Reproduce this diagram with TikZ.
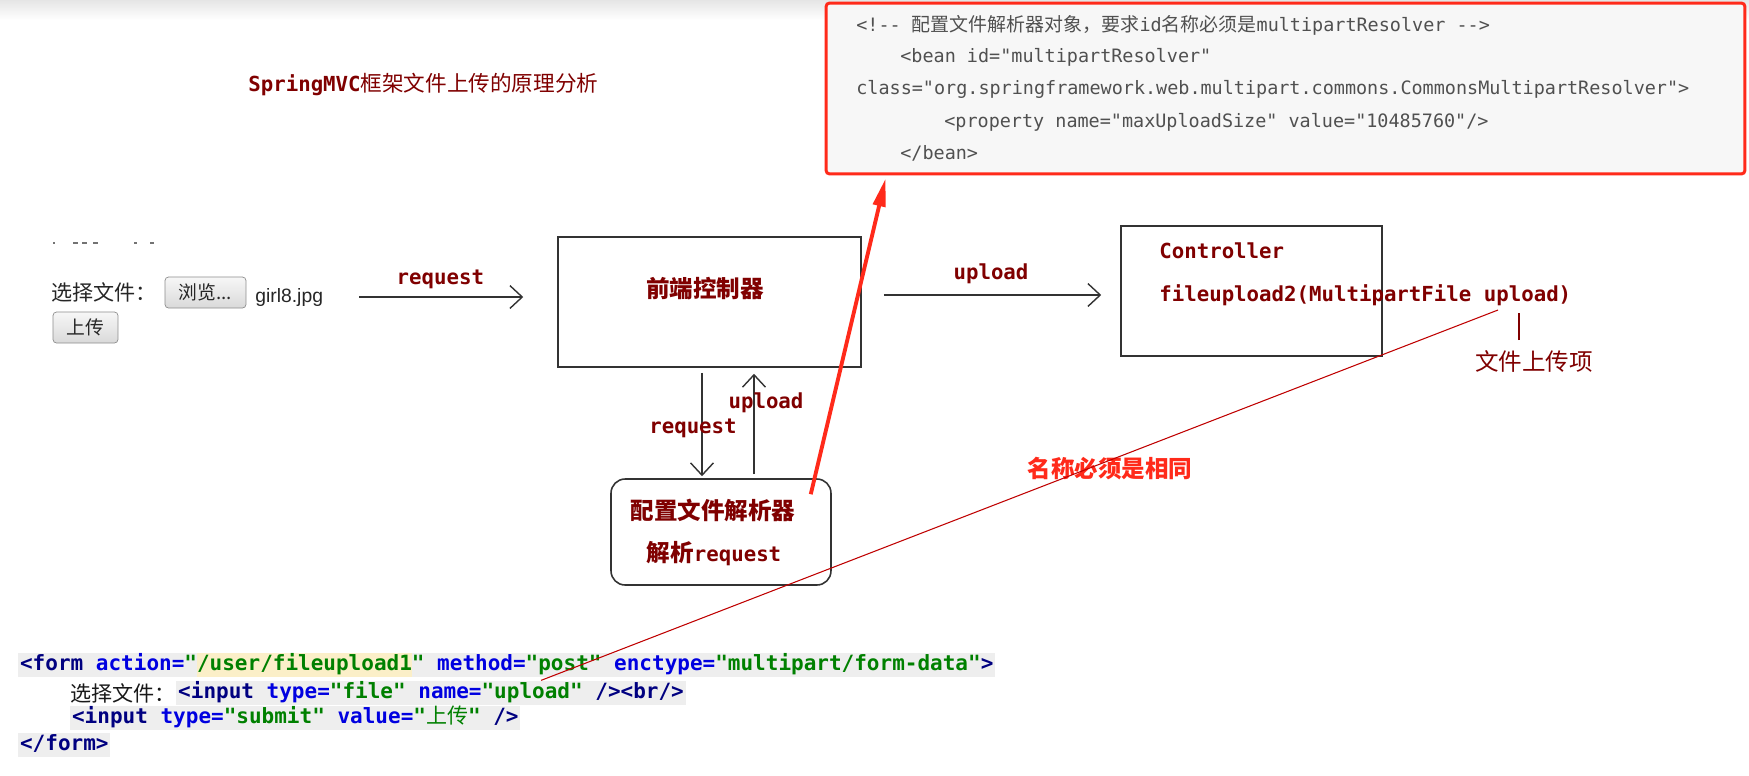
\documentclass[tikz,border=0pt]{standalone}
\usepackage{fontspec}
\setmainfont{Liberation Sans}
\newfontfamily\cjk{Noto Sans CJK SC}
\newfontfamily\codefont{DejaVu Sans Mono}[Ligatures=TeXOff]
\usetikzlibrary{arrows.meta, positioning, calc}
\usepackage{xcolor}
\definecolor{mvcred}{HTML}{800000}
\definecolor{hotred}{HTML}{FF2A1A}
\definecolor{codebg}{HTML}{F7F7F7}
\definecolor{codegray}{HTML}{505050}
\definecolor{hlgray}{HTML}{EEEEEE}
\definecolor{hlyellow}{HTML}{FBEFC8}
\definecolor{tagnavy}{HTML}{000080}
\definecolor{attrblue}{HTML}{0000E0}
\definecolor{valgreen}{HTML}{008000}

\newcommand{\xtag}[1]{\textcolor{tagnavy}{#1}}
\newcommand{\xattr}[1]{\textcolor{attrblue}{#1}}
\newcommand{\xval}[1]{\textcolor{valgreen}{#1}}
\newcommand{\hlmark}[1]{{\setlength{\fboxsep}{0pt}\colorbox{hlyellow}{\rule[-4pt]{0pt}{14pt}#1}}}
\newcommand{\xmlhan}[1]{{\cjk\fontsize{10.8}{12}\selectfont #1}}
\newcommand{\mvclat}[1]{{\codefont\bfseries\fontsize{11.8}{14}\selectfont #1}}

\begin{document}
\begin{tikzpicture}[
  x=0.02cm, y=-0.02cm,
  boxnode/.style={draw=black!80, line width=0.9pt, inner sep=0pt},
  lbl/.style={font=\codefont\bfseries\fontsize{11.8}{14}\selectfont, text=mvcred, inner sep=0pt},
  hanlbl/.style={font=\cjk\bfseries\fontsize{13.4}{16}\selectfont, text=mvcred, inner sep=0pt},
  xmlln/.style={font=\codefont\fontsize{10.5}{12}\selectfont, text=codegray, inner sep=0pt, anchor=west},
  codeln/.style={font=\codefont\bfseries\fontsize{11.95}{14}\selectfont, fill=hlgray,
    inner xsep=1pt, inner ysep=0pt, text height=10pt, text depth=4pt, anchor=west},
  btn/.style={draw=black!45, rounded corners=2pt, top color=black!3, bottom color=black!15,
    font=\cjk\fontsize{10.7}{12}\selectfont, text=black!85, inner sep=0pt},
  arr/.style={-{Straight Barb[length=7pt, width=13pt]}, line width=0.8pt, black!80},
  bigarr/.style={-{Triangle[length=16pt, width=7pt]}, line width=2.2pt, hotred},
  thinred/.style={line width=0.6pt, red!75!black}
]
  \fill[white] (0,0) rectangle (1749,775);
  \useasboundingbox (0,0) rectangle (1749,775);
  \shade[top color=black!10, bottom color=white] (0,0) rectangle (1749,20);

  % Title
  \node[font=\cjk\fontsize{12.3}{15}\selectfont, text=mvcred, anchor=west, inner sep=0pt]
    (title) at (248,84) {\mvclat{SpringMVC}框架文件上传的原理分析};

  % Config snippet
  \node[draw=hotred, line width=1.7pt, fill=codebg, rounded corners=2pt,
    minimum width=18.38cm, minimum height=3.42cm, inner sep=0pt] (codebox) at (1285.5,88.5) {};
  \node[xmlln] (x1) at (856,25) {<!-- \xmlhan{配置文件解析器对象，要求}id\xmlhan{名称必须是}multipartResolver -->};
  \node[xmlln] (x2) at (900,57) {<bean id="multipartResolver"};
  \node[xmlln] (x3) at (856,89) {class="org.springframework.web.multipart.commons.CommonsMultipartResolver">};
  \node[xmlln] (x4) at (944,122) {<property name="maxUploadSize" value="10485760"/>};
  \node[xmlln] (x5) at (900,153) {</bean>};

  % Upload form widget
  \draw[black!55, line width=1pt] (53,243) -- (55,243) (73,243) -- (78,243) (82,243) -- (87,243)
    (93,243) -- (98,243) (134,243) -- (137,243) (150,243) -- (154,243);
  \node[font=\cjk\fontsize{12}{14}\selectfont, text=black!85, anchor=west, inner sep=0pt]
    (pick) at (51,292) {选择文件：};
  \node[btn, minimum width=1.62cm, minimum height=0.62cm] (browse) at (205.5,292.5) {浏览...};
  \node[font=\fontsize{11}{13}\selectfont, text=black!85, anchor=west, inner sep=0pt]
    (girl) at (255,297) {girl8.jpg};
  \node[btn, minimum width=1.3cm, minimum height=0.62cm] (send) at (85.5,327.5) {上传};

  % Boxes
  \node[boxnode, minimum width=6.06cm, minimum height=2.6cm] (front) at (709.5,302) {};
  \node[hanlbl] (frontlbl) at (705,289) {前端控制器};
  \node[boxnode, minimum width=5.22cm, minimum height=2.6cm] (ctrl) at (1251.5,291) {};
  \node[lbl, anchor=west] (ctrlname) at (1159,251) {Controller};
  \node[lbl, anchor=west] (ctrlsig) at (1159,295) {fileupload2(MultipartFile upload)};
  \node[boxnode, rounded corners=8pt, minimum width=4.4cm, minimum height=2.12cm] (parser) at (721,532) {};
  \node[hanlbl] (parserlbl) at (713,510) {配置文件解析器};
  \node[hanlbl] (parserjob) at (714,554) {解析\mvclat{request}};

  % Flow
  \draw[arr, shorten <=0.72cm, shorten >=0.68cm] (girl.east) -- (girl.east -| front.west)
    node[lbl, midway, above=4pt] (reqlbl) {request};
  \coordinate (upS) at ($(front.east)+(0,-7)$);
  \draw[arr, shorten <=0.44cm, shorten >=0.38cm] (upS) -- (upS -| ctrl.west)
    node[lbl, midway, above=6pt] (uplbl) {upload};
  \coordinate (dnS) at ($(front.south)+(-7.5,0)$);
  \draw[arr, shorten <=0.1cm, shorten >=0.04cm] (dnS) -- (dnS |- parser.north);
  \node[lbl] (dnlbl) at (693,428) {request};
  \coordinate (rtS) at ($(parser.north)+(33,0)$);
  \draw[arr, shorten <=0.08cm, shorten >=0.12cm] (rtS) -- (rtS |- front.south);
  \node[lbl] (rtlbl) at (766,403) {upload};

  % Notes
  \node[font=\cjk\fontsize{13.4}{16}\selectfont, text=mvcred, inner sep=0pt] (item) at (1534,361) {文件上传项};
  \draw[mvcred, line width=0.7pt] ($(item.center)+(-15,-21)$) -- ++(0,-27);
  \node[font=\cjk\bfseries\fontsize{13.4}{16}\selectfont, text=hotred, inner sep=0pt] (same) at (1110,469) {名称必须是相同};

  % Form source
  \node[codeln] (l1) at (18,665) {\xtag{<form} \xattr{action=}\xval{"\hlmark{/user/fileupload1}"} \xattr{method=}\xval{"post"} \xattr{enctype=}\xval{"multipart/form-data"}\xtag{>}};
  \node[font=\cjk\fontsize{12}{14}\selectfont, text=black!90, anchor=west, inner sep=0pt] (l2han) at (70,693) {选择文件：};
  \node[codeln] (l2code) at (l2han.east) {\xtag{<input} \xattr{type=}\xval{"file"} \xattr{name=}\xval{"upload"} \xtag{/><br/>}};
  \node[codeln] (l3) at (70,718) {\xtag{<input} \xattr{type=}\xval{"submit"} \xattr{value=}\xval{"{\cjk\mdseries 上传}"} \xtag{/>}};
  \node[codeln] (l4) at (18,745) {\xtag{</form>}};

  % Links
  \draw[bigarr] ($(parser.north east)+(-21,16)$) -- ($(codebox.south west)+(61,3)$);
  \coordinate (nameA) at ($(l2code.north west)+(365,0)$);
  \coordinate (nameB) at ($(ctrlsig.west)+(339,15)$);
  \draw[thinred] (nameA) -- (nameB);
\end{tikzpicture}
\end{document}
